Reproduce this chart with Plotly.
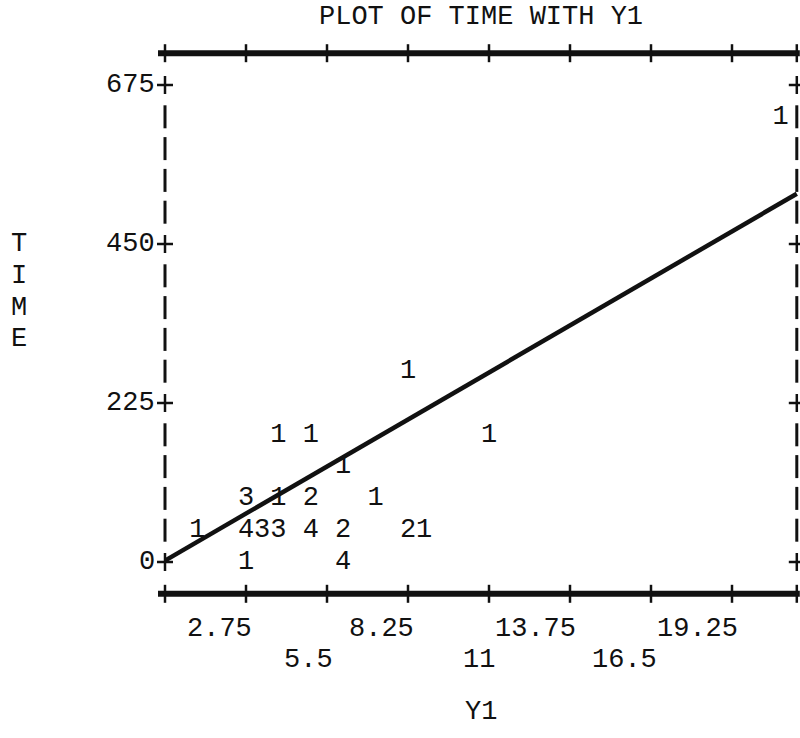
import plotly.graph_objects as go

# Observations, binned onto the printer grid (0.55 per column in Y1, 45 per row in TIME);
# the count at each cell is the character that gets printed there.
y1_values = [2.75, 6.05,
             1.10, 2.75, 3.30, 3.85, 4.95, 6.05, 8.25, 8.80,
             2.75, 3.85, 4.95, 7.15,
             6.05,
             3.85, 4.95, 11.00,
             8.25,
             20.90]
time_values = [0, 0,
               45, 45, 45, 45, 45, 45, 45, 45,
               90, 90, 90, 90,
               135,
               180, 180, 180,
               270,
               630]
obs_counts = [1, 4,
              1, 4, 3, 3, 4, 2, 2, 1,
              3, 1, 2, 1,
              1,
              1, 1, 1,
              1,
              1]

x_tick_values = [2.75, 5.5, 8.25, 11, 13.75, 16.5, 19.25]
x_tick_labels = ["2.75", "5.5", "8.25", "11", "13.75", "16.5", "19.25"]
y_tick_values = [0, 225, 450, 675]
y_tick_labels = ["0", "225", "450", "675"]

# fitted regression line TIME = a + b * Y1
fit_intercept = 2.0
fit_slope = 24.2

# ---- printer grid geometry ----
COL = 0.55          # Y1 per print column
ROW = 45.0          # TIME per print line
N_COLS = 39         # right frame column
N_ROWS = 16         # top frame line
PX_COL = 16.2       # pixels per print column
PX_ROW = 31.8       # pixels per print line
X0_PX, Y0_PX = 165, 562
W, H = 800, 738
PX_X = PX_COL / COL
PX_Y = PX_ROW / ROW

x_range = [-X0_PX / PX_X, (W - X0_PX) / PX_X]
y_range = [(Y0_PX - H) / PX_Y, Y0_PX / PX_Y]


def dx(px):
    return px / PX_X


def dy(px):
    return px / PX_Y


FONT = "Liberation Mono"
INK = "#111111"
FS = 27

x_left, x_right = 0.0, N_COLS * COL
y_bottom, y_top = -ROW, N_ROWS * ROW

fig = go.Figure()

# top and bottom frame rules
for yb in (y_top, y_bottom):
    fig.add_trace(go.Scatter(x=[x_left - dx(7), x_right + dx(3)], y=[yb, yb], mode="lines",
                             line=dict(color=INK, width=6), hoverinfo="skip"))
    tx, ty = [], []
    for c in list(range(0, N_COLS, 5)) + [N_COLS]:
        tx += [c * COL, c * COL, None]
        ty += [yb - dy(9), yb + dy(9), None]
    fig.add_trace(go.Scatter(x=tx, y=ty, mode="lines", line=dict(color=INK, width=2.5),
                             hoverinfo="skip"))

# left and right frame: '+' at labelled lines, '|' elsewhere
for xb in (x_left, x_right):
    vx, vy, px_, py_ = [], [], [], []
    for r in range(0, N_ROWS):
        yr = r * ROW
        if r % 5 == 0:
            px_ += [xb - dx(8), xb + dx(8), None, xb, xb, None]
            py_ += [yr, yr, None, yr - dy(9), yr + dy(9), None]
        else:
            vx += [xb, xb, None]
            vy += [yr - dy(11.5), yr + dy(11.5), None]
    fig.add_trace(go.Scatter(x=vx, y=vy, mode="lines", line=dict(color=INK, width=3),
                             hoverinfo="skip"))
    fig.add_trace(go.Scatter(x=px_, y=py_, mode="lines", line=dict(color=INK, width=2.5),
                             hoverinfo="skip"))

# regression line
fit_x = [x_left, x_right]
fit_y = [fit_intercept + fit_slope * v for v in fit_x]
fig.add_trace(go.Scatter(x=fit_x, y=fit_y, mode="lines", line=dict(color=INK, width=4.5),
                         hoverinfo="skip"))

# plotted observation counts
fig.add_trace(go.Scatter(x=y1_values, y=time_values, mode="text",
                         text=[str(c) for c in obs_counts], textposition="middle center",
                         textfont=dict(family=FONT, size=FS, color=INK),
                         hoverinfo="skip"))

ann = []
for v, t in zip(y_tick_values, y_tick_labels):
    ann.append(dict(x=-0.5 * COL, y=v, text=t, xanchor="right", yanchor="middle"))
for i, (v, t) in enumerate(zip(x_tick_values, x_tick_labels)):
    ann.append(dict(x=v + 0.5 * COL, y=(-2 if i % 2 == 0 else -3) * ROW, text=t,
                    xanchor="right", yanchor="middle", yshift=-3))
for k, ch in enumerate("TIME"):
    ann.append(dict(x=-9 * COL, y=(10 - k) * ROW, text=ch, xanchor="center", yanchor="middle"))
ann.append(dict(x=19.5 * COL, y=(Y0_PX - 17) / PX_Y, text="PLOT OF TIME WITH Y1",
                xanchor="center", yanchor="middle"))
ann.append(dict(x=19.5 * COL, y=(Y0_PX - 712) / PX_Y, text="Y1",
                xanchor="center", yanchor="middle"))
for a in ann:
    a.update(xref="x", yref="y", showarrow=False,
             font=dict(family=FONT, size=FS, color=INK))

fig.update_layout(
    width=W, height=H, autosize=False,
    margin=dict(l=0, r=0, t=0, b=0),
    paper_bgcolor="white", plot_bgcolor="white",
    showlegend=False,
    xaxis=dict(range=x_range, visible=False, fixedrange=True),
    yaxis=dict(range=y_range, visible=False, fixedrange=True),
    annotations=ann,
)

fig.write_html("out.html")
